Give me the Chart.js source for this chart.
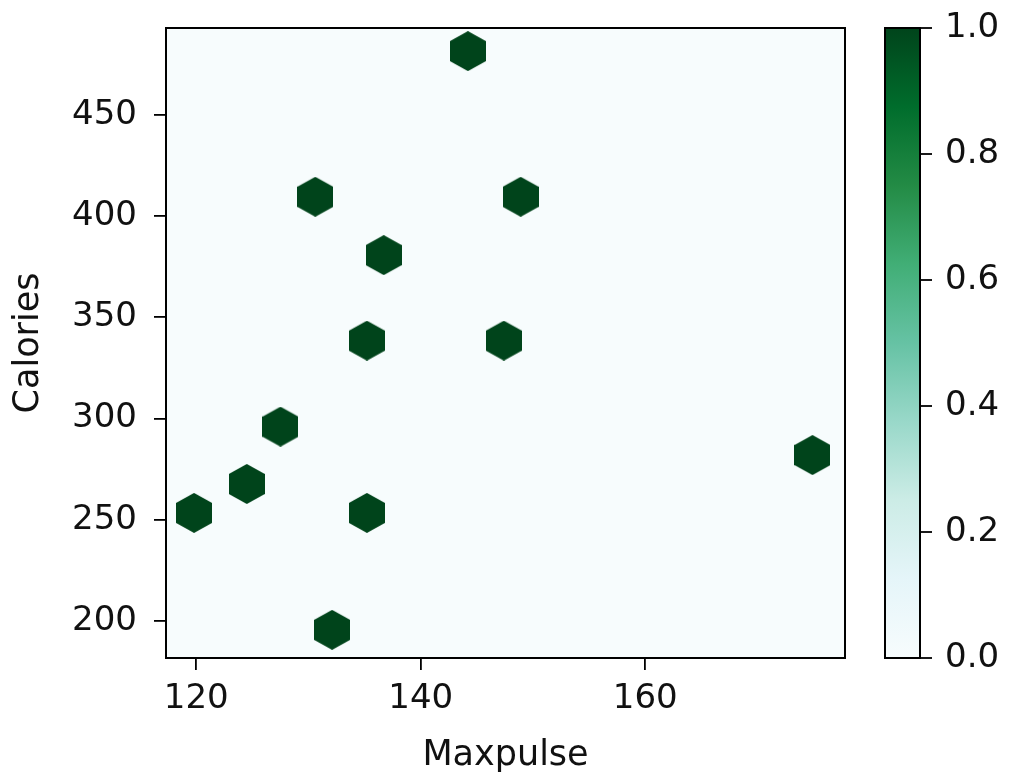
<!DOCTYPE html>
<html><head><meta charset="utf-8">
<script src="https://cdn.jsdelivr.net/npm/chart.js@4.4.1/dist/chart.umd.min.js"></script>
<style>html,body{margin:0;padding:0;background:#fff;overflow:hidden}</style>
</head><body>
<canvas id="c" width="1010" height="779"></canvas>
<script>
// ---- data ----
const maxpulse = [144.2, 130.6, 148.9, 136.7, 135.2, 147.4, 127.5, 174.9, 124.5, 119.8, 135.2, 132.1];
const calories = [481.6, 409.6, 409.6, 380.8, 338.5, 338.5, 296.0, 282.0, 267.7, 253.4, 253.4, 195.6];
const counts   = [1, 1, 1, 1, 1, 1, 1, 1, 1, 1, 1, 1];
const xTicks = [120, 140, 160];
const yTicks = [200, 250, 300, 350, 400, 450];
const cbTicks = [0, 0.2, 0.4, 0.6, 0.8, 1.0];
const xTitle = 'Maxpulse';
const yTitle = 'Calories';

// ---- style ----
const FONT = 'DejaVu Sans';
const TXT = '#111';
const BuGn = ['#f7fcfd','#e5f5f9','#ccece6','#99d8c9','#66c2a4','#41ae76','#238b45','#006d2c','#00441b'];
function hex2rgb(h){return [parseInt(h.slice(1,3),16),parseInt(h.slice(3,5),16),parseInt(h.slice(5,7),16)];}
function cmap(t){
  t = Math.max(0, Math.min(1, t));
  const n = BuGn.length - 1, p = t * n, i = Math.min(Math.floor(p), n - 1), f = p - i;
  const a = hex2rgb(BuGn[i]), b = hex2rgb(BuGn[i + 1]);
  return 'rgb(' + a.map((v, k) => Math.round(v + (b[k] - v) * f)).join(',') + ')';
}
const HW = 36, HH = 40;
const hexCache = {};
function hexCanvas(color){
  if (hexCache[color]) return hexCache[color];
  const c = document.createElement('canvas');
  c.width = HW; c.height = HH;
  const g = c.getContext('2d');
  g.beginPath();
  g.moveTo(HW/2, 0); g.lineTo(HW, HH/4); g.lineTo(HW, HH*3/4);
  g.lineTo(HW/2, HH); g.lineTo(0, HH*3/4); g.lineTo(0, HH/4); g.closePath();
  g.fillStyle = color; g.fill();
  hexCache[color] = c;
  return c;
}
const maxCount = Math.max(...counts);

const framePlugin = {
  id: 'frame',
  beforeDatasetsDraw(chart){
    const {ctx, chartArea: a} = chart;
    ctx.save();
    ctx.fillStyle = cmap(0);
    ctx.fillRect(a.left, a.top, a.right - a.left, a.bottom - a.top);
    ctx.restore();
  },
  afterDraw(chart){
    const {ctx, chartArea: a} = chart;
    ctx.save();
    ctx.strokeStyle = '#000';
    ctx.lineWidth = 2;
    ctx.strokeRect(a.left, a.top, a.right - a.left, a.bottom - a.top);
    // colorbar
    const s = chart.scales.cb;
    const x0 = 885, x1 = 920;
    const yTop = s.getPixelForValue(1), yBot = s.getPixelForValue(0);
    const grad = ctx.createLinearGradient(0, yBot, 0, yTop);
    BuGn.forEach((c, i) => grad.addColorStop(i / (BuGn.length - 1), c));
    ctx.fillStyle = grad;
    ctx.fillRect(x0, yTop, x1 - x0, yBot - yTop);
    ctx.strokeRect(x0, yTop, x1 - x0, yBot - yTop);
    ctx.lineWidth = 1.8;
    cbTicks.forEach(v => {
      const y = s.getPixelForValue(v);
      ctx.beginPath(); ctx.moveTo(x1, y); ctx.lineTo(x1 + 12, y); ctx.stroke();
    });
    ctx.restore();
  }
};

new Chart(document.getElementById('c'), {
  type: 'scatter',
  data: {
    datasets: [{
      data: maxpulse.map((x, i) => ({x: x, y: calories[i]})),
      pointStyle: ctx => hexCanvas(cmap(counts[ctx.dataIndex] / maxCount)),
      pointRadius: 18,
      pointHoverRadius: 18
    }]
  },
  options: {
    responsive: false,
    animation: false,
    devicePixelRatio: 1,
    events: [],
    layout: {padding: {top: 28, left: 0, right: 0, bottom: 0}},
    plugins: {legend: {display: false}, tooltip: {enabled: false}},
    scales: {
      x: {
        type: 'linear', min: 117.3, max: 177.8,
        afterBuildTicks: s => { s.ticks = xTicks.map(v => ({value: v})); },
        afterFit: s => { s.height = 121; s.paddingLeft = 0; s.paddingRight = 0; },
        grid: {drawOnChartArea: false, drawTicks: true, tickLength: 12, color: '#000', lineWidth: 1.8},
        border: {display: false},
        ticks: {font: {family: FONT, size: 34}, color: TXT, padding: 9, maxRotation: 0, callback: v => String(v)},
        title: {display: true, text: xTitle, font: {family: FONT, size: 35, lineHeight: 1}, color: TXT, padding: {top: 0, bottom: 6}}
      },
      y: {
        type: 'linear', position: 'left', min: 181.7, max: 493.0,
        afterBuildTicks: s => { s.ticks = yTicks.map(v => ({value: v})); },
        afterFit: s => { s.width = 166; s.paddingTop = 0; s.paddingBottom = 0; },
        grid: {drawOnChartArea: false, drawTicks: true, tickLength: 12, color: '#000', lineWidth: 1.8},
        border: {display: false},
        ticks: {font: {family: FONT, size: 34}, color: TXT, padding: 17, callback: v => String(v)},
        title: {display: true, text: yTitle, font: {family: FONT, size: 35, lineHeight: 1}, color: TXT, padding: {top: 11, bottom: 0}}
      },
      cb: {
        type: 'linear', position: 'right', min: 0, max: 1,
        afterBuildTicks: s => { s.ticks = cbTicks.map(v => ({value: v})); },
        afterFit: s => { s.width = 165; s.paddingTop = 0; s.paddingBottom = 0; },
        grid: {display: false, drawTicks: false, drawOnChartArea: false},
        border: {display: false},
        ticks: {font: {family: FONT, size: 34}, color: TXT, padding: 100, callback: v => v.toFixed(1)}
      }
    }
  },
  plugins: [framePlugin]
});
</script>
</body></html>
